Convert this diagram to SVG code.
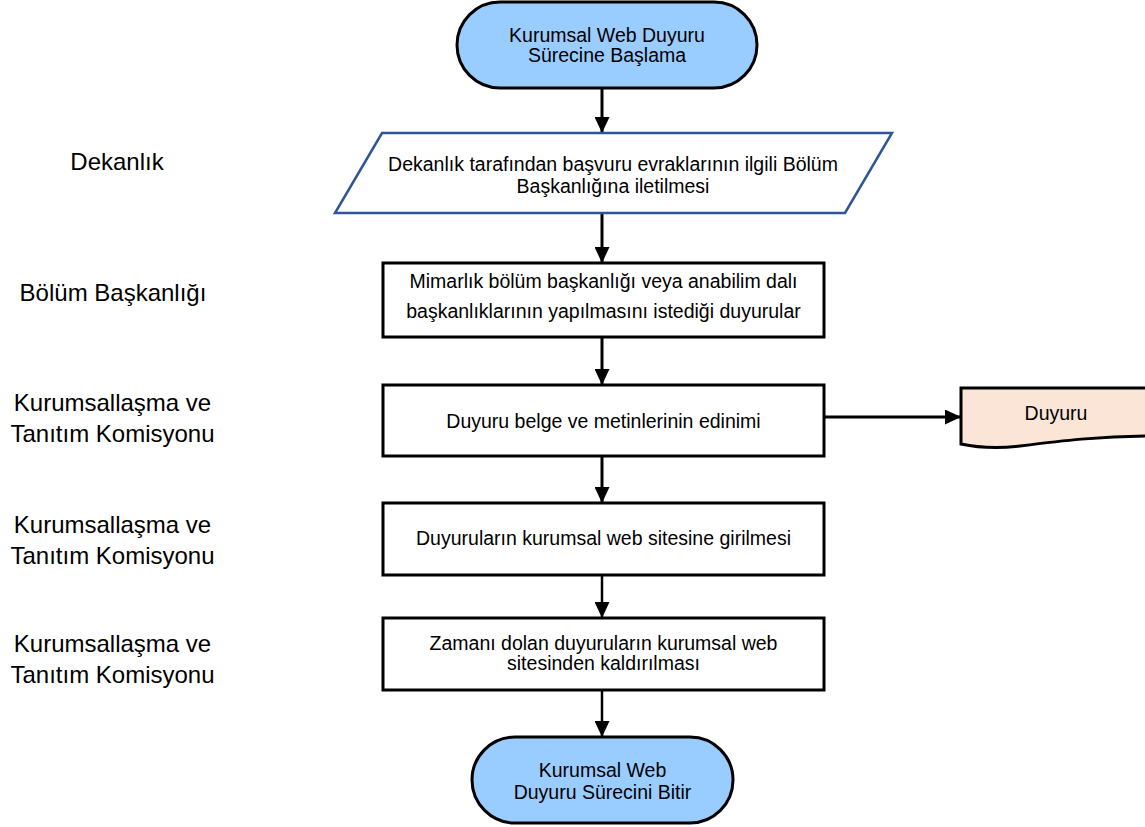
<svg xmlns="http://www.w3.org/2000/svg" width="1145" height="827" viewBox="0 0 1145 827">
<style>
text{font-family:"Liberation Sans",Arial,sans-serif;fill:#000;text-anchor:middle}
.lbl{font-size:24px}
.nt{font-size:19.5px}
.term{fill:#99CCFF;stroke:#000;stroke-width:3}
.box{fill:#fff;stroke:#000;stroke-width:3}
.io{fill:#fff;stroke:#2F5597;stroke-width:2.5}
.doc{fill:#FBE5D6;stroke:#000;stroke-width:3}
.c{fill:none;stroke:#000;stroke-width:3}
.c2{fill:none;stroke:#000;stroke-width:2.5}
</style>
<defs>
<marker id="ah" markerUnits="userSpaceOnUse" viewBox="0 0 16 15" refX="16" refY="7.5" markerWidth="16" markerHeight="15" orient="auto">
<path d="M0,0 L16,7.5 L0,15 Z" fill="#000"/>
</marker>
</defs>
<rect width="1145" height="827" fill="#fff"/>

<g id="lanes">
<text class="lbl" x="117" y="170">Dekanlık</text>
<text class="lbl" x="113" y="301">Bölüm Başkanlığı</text>
<text class="lbl" x="112.5" y="411">Kurumsallaşma ve</text>
<text class="lbl" x="112.5" y="442">Tanıtım Komisyonu</text>
<text class="lbl" x="112.5" y="533">Kurumsallaşma ve</text>
<text class="lbl" x="112.5" y="564">Tanıtım Komisyonu</text>
<text class="lbl" x="112.5" y="652">Kurumsallaşma ve</text>
<text class="lbl" x="112.5" y="683">Tanıtım Komisyonu</text>
</g>

<g id="connectors">
<line class="c" x1="602" y1="88" x2="602" y2="133" marker-end="url(#ah)"/>
<line class="c" x1="602" y1="213" x2="602" y2="263" marker-end="url(#ah)"/>
<line class="c" x1="602" y1="337" x2="602" y2="385" marker-end="url(#ah)"/>
<line class="c" x1="823" y1="417" x2="961" y2="417" marker-end="url(#ah)"/>
<line class="c" x1="602" y1="456" x2="602" y2="503" marker-end="url(#ah)"/>
<line class="c2" x1="602" y1="575" x2="602" y2="618" marker-end="url(#ah)"/>
<line class="c2" x1="602" y1="690" x2="602" y2="737" marker-end="url(#ah)"/>
</g>

<g id="start">
<rect class="term" x="457" y="2" width="300" height="86" rx="43"/>
<text class="nt" x="607" y="42">Kurumsal Web Duyuru</text>
<text class="nt" x="607" y="62">Sürecine Başlama</text>
</g>

<g id="dekanlik">
<polygon class="io" points="382,133 892,133 845,213 335,213"/>
<text class="nt" x="613" y="171">Dekanlık tarafından başvuru evraklarının ilgili Bölüm</text>
<text class="nt" x="613" y="193">Başkanlığına iletilmesi</text>
</g>

<g id="bolum">
<rect class="box" x="383" y="263" width="441" height="74"/>
<text class="nt" x="603.5" y="288">Mimarlık bölüm başkanlığı veya anabilim dalı</text>
<text class="nt" x="603.5" y="318">başkanlıklarının yapılmasını istediği duyurular</text>
</g>

<g id="edinim">
<rect class="box" x="383" y="385" width="441" height="71"/>
<text class="nt" x="603.5" y="428">Duyuru belge ve metinlerinin edinimi</text>
</g>

<g id="duyuru">
<path class="doc" d="M961,388 H1150 V436 C1100,436 1060,441 1020,446 C995,449 975,447 961,444 Z"/>
<text class="nt" x="1056" y="420">Duyuru</text>
</g>

<g id="giris">
<rect class="box" x="383" y="503" width="441" height="72"/>
<text class="nt" x="603.5" y="545">Duyuruların kurumsal web sitesine girilmesi</text>
</g>

<g id="kaldir">
<rect class="box" x="383" y="618" width="441" height="72"/>
<text class="nt" x="603.5" y="650">Zamanı dolan duyuruların kurumsal web</text>
<text class="nt" x="603.5" y="670">sitesinden kaldırılması</text>
</g>

<g id="end">
<rect class="term" x="472" y="737" width="261" height="86" rx="43"/>
<text class="nt" x="602.5" y="777">Kurumsal Web</text>
<text class="nt" x="602.5" y="799">Duyuru Sürecini Bitir</text>
</g>
</svg>
